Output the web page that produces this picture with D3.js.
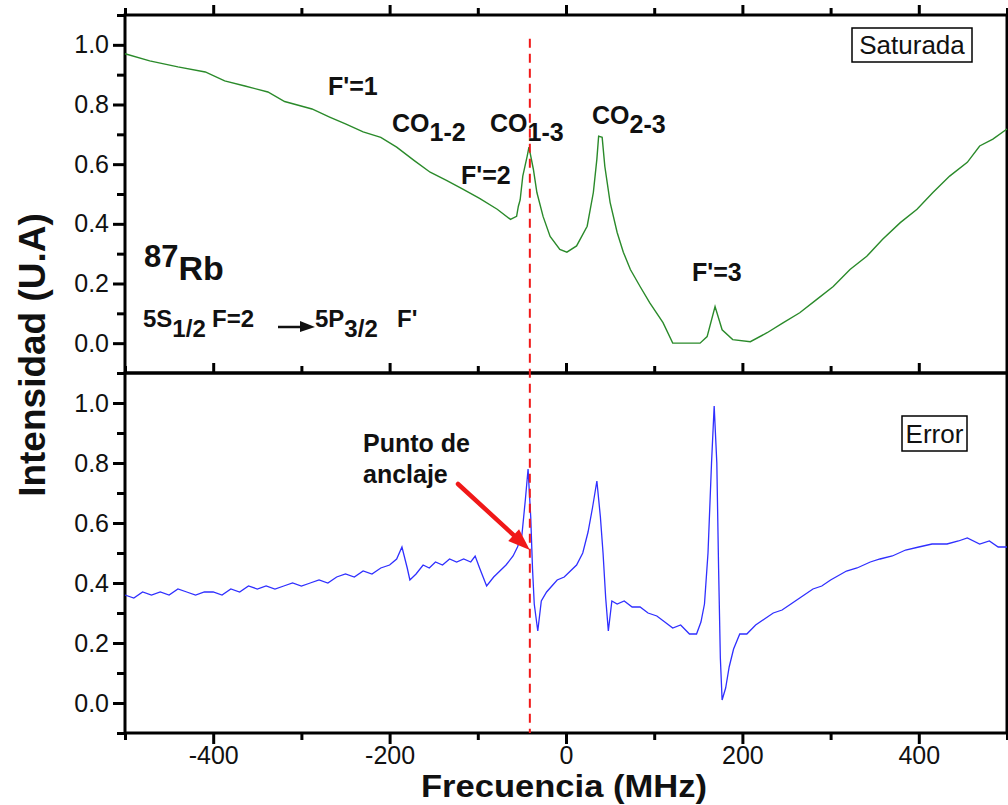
<!DOCTYPE html>
<html>
<head>
<meta charset="utf-8">
<script src="https://cdn.jsdelivr.net/npm/d3@7"></script>
<style>
  html, body { margin: 0; padding: 0; background: #fff; }
  svg { display: block; font-family: "Liberation Sans", Arial, sans-serif; }
  .axis path.domain { display: none; }
  .axis line { stroke: #000; stroke-width: 3; }
  .axis text { font-size: 25px; fill: #111; font-family: "Liberation Sans", Arial, sans-serif; }
  .frame { fill: none; stroke: #000; stroke-width: 3; }
  .note { font-size: 25px; font-weight: bold; fill: #111; }
</style>
</head>
<body>
<svg id="chart" width="1008" height="805"></svg>
<script>
// frequency axis (MHz)
const xMajor = [-400, -200, 0, 200, 400];
const xMinor = [-500, -300, -100, 100, 300, 500];
const yMajor = [0.0, 0.2, 0.4, 0.6, 0.8, 1.0];
const yMinor = [-0.1, 0.1, 0.3, 0.5, 0.7, 0.9, 1.1];

// Saturada trace (upper panel): [MHz, U.A]
const saturada = [
  [-500, 0.970], [-472, 0.946], [-440, 0.926], [-409, 0.909], [-387, 0.879],
  [-364, 0.862], [-338, 0.842], [-319, 0.810], [-288, 0.785], [-268, 0.758],
  [-250, 0.735], [-230, 0.708], [-210, 0.690], [-192, 0.657], [-172, 0.612],
  [-154, 0.573], [-135, 0.545], [-117, 0.516], [-98, 0.485], [-78, 0.449],
  [-63, 0.415], [-56, 0.425], [-54, 0.459], [-52, 0.480], [-49, 0.560],
  [-44, 0.627], [-42, 0.657], [-37, 0.583], [-33, 0.505], [-26, 0.425],
  [-18, 0.358], [-7, 0.314], [1, 0.305], [12, 0.326], [24, 0.392],
  [31, 0.505], [35, 0.617], [37, 0.694], [41, 0.690], [44, 0.593],
  [50, 0.472], [58, 0.371], [65, 0.305], [73, 0.247], [84, 0.190],
  [95, 0.135], [110, 0.069], [121, 0.000], [152, 0.000], [160, 0.022],
  [169, 0.123], [177, 0.045], [189, 0.012], [209, 0.005], [228, 0.035],
  [246, 0.068], [265, 0.102], [284, 0.146], [303, 0.190], [322, 0.247],
  [341, 0.291], [359, 0.348], [379, 0.404], [398, 0.449], [416, 0.505],
  [435, 0.560], [455, 0.606], [469, 0.661], [484, 0.684], [500, 0.718]
];

// Error trace (lower panel): [MHz, U.A]
const errorSig = [
  [-500, 0.36], [-490, 0.35], [-480, 0.37], [-470, 0.36], [-460, 0.37], [-450, 0.36],
  [-440, 0.38], [-430, 0.37], [-420, 0.36], [-410, 0.37], [-400, 0.37], [-390, 0.36],
  [-380, 0.38], [-370, 0.37], [-360, 0.39], [-350, 0.38], [-340, 0.39], [-330, 0.38],
  [-320, 0.39], [-310, 0.40], [-300, 0.39], [-290, 0.40], [-280, 0.41], [-270, 0.40],
  [-260, 0.42], [-250, 0.43], [-240, 0.42], [-230, 0.44], [-220, 0.43], [-210, 0.45],
  [-200, 0.46], [-192, 0.48], [-186, 0.52], [-180, 0.45], [-177, 0.41], [-170, 0.43],
  [-162, 0.46], [-155, 0.45], [-148, 0.47], [-140, 0.46], [-132, 0.48], [-124, 0.47],
  [-116, 0.48], [-108, 0.47], [-103, 0.49], [-98, 0.45], [-90, 0.39], [-82, 0.42],
  [-75, 0.44], [-68, 0.46], [-60, 0.49], [-55, 0.52], [-50, 0.56], [-46, 0.68],
  [-43, 0.78], [-40, 0.62], [-38, 0.45], [-36, 0.33], [-32, 0.24], [-28, 0.34],
  [-22, 0.37], [-16, 0.39], [-10, 0.41], [-2, 0.42], [5, 0.44], [12, 0.46],
  [19, 0.50], [25, 0.57], [30, 0.65], [35, 0.74], [39, 0.62], [42, 0.50],
  [45, 0.35], [48, 0.24], [52, 0.34], [58, 0.33], [66, 0.34], [75, 0.32],
  [84, 0.32], [93, 0.30], [103, 0.29], [112, 0.27], [121, 0.25], [130, 0.26],
  [140, 0.23], [148, 0.23], [153, 0.27], [157, 0.33], [161, 0.50], [165, 0.80],
  [168, 0.99], [171, 0.80], [173, 0.45], [175, 0.15], [177, 0.01], [181, 0.05],
  [185, 0.12], [190, 0.18], [197, 0.23], [205, 0.23], [215, 0.26], [225, 0.28],
  [235, 0.30], [245, 0.31], [255, 0.33], [265, 0.35], [280, 0.38], [290, 0.39],
  [300, 0.41], [318, 0.44], [330, 0.45], [345, 0.47], [356, 0.48], [370, 0.49],
  [385, 0.51], [400, 0.52], [415, 0.53], [432, 0.53], [445, 0.54], [455, 0.55],
  [469, 0.53], [480, 0.54], [490, 0.52], [500, 0.52]
];

const lockFreq = -41;       // punto de anclaje
const lockValue = 0.51;

(function () {
  "use strict";

  const svg = d3.select("#chart");
  const pLeft = 125, pRight = 1007, pTop = 15, pMid = 373, pBottom = 733;

  const x = d3.scaleLinear().domain([-500, 500]).range([pLeft, pRight]);
  const yTop = d3.scaleLinear().domain([-0.1, 1.1]).range([pMid, pTop]);
  const yBot = d3.scaleLinear().domain([-0.1, 1.1]).range([pBottom, pMid]);

  const fmt = d3.format(".1f");

  function yAxes(scale) {
    svg.append("g").attr("class", "axis")
      .attr("transform", `translate(${pLeft},0)`)
      .call(d3.axisLeft(scale).tickValues(yMajor).tickSize(12).tickSizeOuter(0).tickPadding(4).tickFormat(fmt));
    svg.append("g").attr("class", "axis")
      .attr("transform", `translate(${pLeft},0)`)
      .call(d3.axisLeft(scale).tickValues(yMinor).tickSize(8).tickSizeOuter(0).tickFormat(""));
  }
  yAxes(yTop);
  yAxes(yBot);

  // top edges: ticks only
  [pTop, pMid].forEach(yy => {
    svg.append("g").attr("class", "axis")
      .attr("transform", `translate(0,${yy})`)
      .call(d3.axisTop(x).tickValues(xMajor).tickSize(10).tickSizeOuter(0).tickFormat(""));
    svg.append("g").attr("class", "axis")
      .attr("transform", `translate(0,${yy})`)
      .call(d3.axisTop(x).tickValues(xMinor).tickSize(7).tickSizeOuter(0).tickFormat(""));
  });

  svg.append("g").attr("class", "axis")
    .attr("transform", `translate(0,${pBottom})`)
    .call(d3.axisBottom(x).tickValues(xMajor).tickSize(11).tickSizeOuter(0).tickPadding(2).tickFormat(d => String(d)));
  svg.append("g").attr("class", "axis")
    .attr("transform", `translate(0,${pBottom})`)
    .call(d3.axisBottom(x).tickValues(xMinor).tickSize(7).tickSizeOuter(0).tickFormat(""));

  // frames
  svg.append("rect").attr("class", "frame")
    .attr("x", pLeft).attr("y", pTop).attr("width", pRight - pLeft).attr("height", pMid - pTop);
  svg.append("rect").attr("class", "frame")
    .attr("x", pLeft).attr("y", pMid).attr("width", pRight - pLeft).attr("height", pBottom - pMid);

  // traces
  svg.append("path")
    .datum(saturada)
    .attr("fill", "none")
    .attr("stroke", "#2a8a2a")
    .attr("stroke-width", 1.4)
    .attr("d", d3.line().x(d => x(d[0])).y(d => yTop(d[1])));

  svg.append("path")
    .datum(errorSig)
    .attr("fill", "none")
    .attr("stroke", "#2f2fff")
    .attr("stroke-width", 1.3)
    .attr("d", d3.line().x(d => x(d[0])).y(d => yBot(d[1])));

  // lock line
  svg.append("line")
    .attr("x1", x(lockFreq)).attr("x2", x(lockFreq))
    .attr("y1", yTop(1.02)).attr("y2", pBottom)
    .attr("stroke", "#f01818")
    .attr("stroke-width", 2)
    .attr("stroke-dasharray", "9,6");

  // legend boxes
  function boxLabel(label, bx, by, bw, bh) {
    svg.append("rect").attr("x", bx).attr("y", by).attr("width", bw).attr("height", bh)
      .attr("fill", "#fff").attr("stroke", "#000").attr("stroke-width", 1.5);
    svg.append("text").attr("x", bx + bw / 2).attr("y", by + bh - 8)
      .attr("text-anchor", "middle").attr("font-size", 26).attr("fill", "#111")
      .text(label);
  }
  boxLabel("Saturada", 852, 28, 120, 34);
  boxLabel("Error", 902, 416, 65, 35);

  // peak labels
  function note(main, sub, tx, ty, subDy) {
    const t = svg.append("text").attr("class", "note").attr("x", tx).attr("y", ty);
    t.append("tspan").text(main);
    if (sub) t.append("tspan").attr("dy", subDy).text(sub);
  }
  note("F'=1", null, 328, 95);
  note("CO", "1-2", 392, 132, 9);
  note("CO", "1-3", 490, 132, 9);
  note("CO", "2-3", 592, 124, 9);
  note("F'=2", null, 461, 184);
  note("F'=3", null, 692, 281);

  // 87Rb
  const rb = svg.append("text").attr("x", 144).attr("y", 267).attr("font-weight", "bold").attr("fill", "#111");
  rb.append("tspan").attr("font-size", 31).text("87");
  rb.append("tspan").attr("font-size", 34).attr("dy", 13).text("Rb");

  // transition
  const tr = svg.append("g").attr("font-size", 24).attr("font-weight", "bold").attr("fill", "#111");
  const t1 = tr.append("text").attr("x", 143).attr("y", 327);
  t1.append("tspan").text("5S");
  t1.append("tspan").attr("dy", 10).text("1/2");
  tr.append("text").attr("x", 212).attr("y", 327).text("F=2");
  const t2 = tr.append("text").attr("x", 315).attr("y", 327);
  t2.append("tspan").text("5P");
  t2.append("tspan").attr("dy", 10).text("3/2");
  tr.append("text").attr("x", 397).attr("y", 327).text("F'");
  tr.append("line").attr("x1", 278).attr("x2", 302).attr("y1", 327).attr("y2", 327)
    .attr("stroke", "#111").attr("stroke-width", 2.5);
  tr.append("path").attr("d", "M300,321 L315,327 L300,332 Z").attr("fill", "#111");

  // punto de anclaje
  svg.append("text").attr("class", "note").attr("x", 363).attr("y", 452).attr("font-size", 26).text("Punto de");
  svg.append("text").attr("class", "note").attr("x", 363).attr("y", 483).attr("font-size", 26).text("anclaje");
  const tipX = x(lockFreq), tipY = yBot(lockValue);
  const sx = 458, sy = 484;
  const ang = Math.atan2(tipY - sy, tipX - sx);
  const hl = 22, hw = 8;
  const bx = tipX - hl * Math.cos(ang), by = tipY - hl * Math.sin(ang);
  svg.append("line").attr("x1", sx).attr("y1", sy).attr("x2", bx).attr("y2", by)
    .attr("stroke", "#f01818").attr("stroke-width", 4.5).attr("stroke-linecap", "round");
  svg.append("path")
    .attr("d", `M${tipX},${tipY} L${bx + hw * Math.sin(ang)},${by - hw * Math.cos(ang)} L${bx - hw * Math.sin(ang)},${by + hw * Math.cos(ang)} Z`)
    .attr("fill", "#f01818");

  // axis titles
  svg.append("text")
    .attr("x", 564).attr("y", 797)
    .attr("text-anchor", "middle").attr("font-size", 31).attr("font-weight", "bold").attr("fill", "#111")
    .attr("textLength", 286).attr("lengthAdjust", "spacingAndGlyphs")
    .text("Frecuencia (MHz)");
  svg.append("text")
    .attr("transform", "translate(45,355) rotate(-90)")
    .attr("text-anchor", "middle").attr("font-size", 37).attr("font-weight", "bold").attr("fill", "#111")
    .text("Intensidad (U.A)");
})();
</script>
</body>
</html>
